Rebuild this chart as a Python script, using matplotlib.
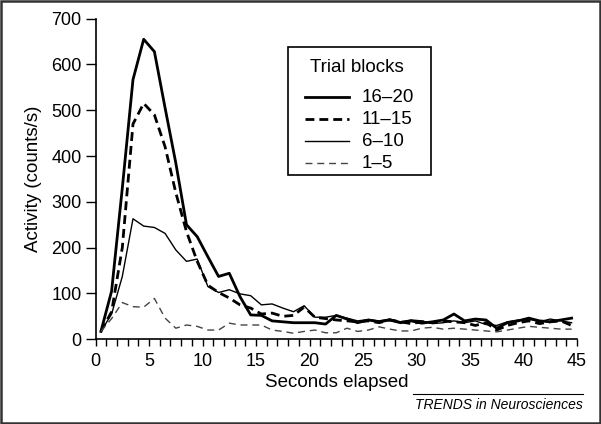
import numpy as np
import matplotlib.pyplot as plt
from matplotlib.patches import Rectangle
from matplotlib.lines import Line2D

plt.rcParams['font.family'] = ['Liberation Sans', 'DejaVu Sans']

# time bins (s), one point per second at the bin centre
secs = np.arange(0.5, 45, 1.0)

blocks_16_20 = [17, 105, 330, 567, 655, 628, 505, 385, 250, 224,
                180, 137, 144, 93, 53, 52, 40, 38, 36, 36,
                36, 33, 52, 44, 36, 42, 38, 42, 36, 40,
                35, 38, 42, 55, 40, 44, 42, 24, 36, 40,
                46, 40, 38, 42, 46]
blocks_11_15 = [17, 60, 200, 470, 515, 490, 420, 320, 235, 170,
                118, 102, 90, 75, 68, 55, 57, 50, 52, 70,
                48, 45, 42, 40, 38, 40, 36, 42, 38, 34,
                38, 36, 40, 38, 36, 30, 36, 20, 30, 36,
                40, 34, 38, 40, 30]
blocks_6_10 = [17, 55, 137, 263, 247, 244, 231, 195, 170, 175,
               115, 102, 108, 99, 95, 75, 77, 68, 60, 73,
               48, 48, 52, 46, 40, 43, 40, 44, 38, 42,
               40, 34, 36, 40, 36, 40, 32, 30, 38, 42,
               44, 38, 44, 40, 36]
blocks_1_5 = [17, 45, 80, 71, 70, 89, 46, 24, 31, 28,
              20, 20, 35, 31, 31, 31, 20, 17, 13, 17,
              20, 14, 14, 24, 17, 20, 27, 22, 18, 18,
              24, 26, 22, 24, 22, 20, 18, 16, 20, 24,
              28, 26, 24, 22, 22]

labels = ['16\u201320', '11\u201315', '6\u201310', '1\u20135']

W, H = 601, 424


def fx(px):
    return px / W


def fy(py):
    return 1 - py / H


# line styles per block: (colour, width, dash)
styles = [('black', 2.0, '-'),
          ('black', 2.0, (0, (3.2, 1.8))),
          ('black', 1.0, '-'),
          ('#444444', 1.0, (0, (5, 3.5)))]
series = [blocks_16_20, blocks_11_15, blocks_6_10, blocks_1_5]

fig = plt.figure(figsize=(6.01, 4.24), dpi=100)
ax = fig.add_axes([0.159, 0.2, 0.801, 0.756])

for vals, (c, lw, ls) in zip(series, styles):
    ax.plot(secs, vals, color=c, lw=lw, ls=ls)

ax.set_xlim(0, 45)
ax.set_ylim(0, 700)
ax.set_xticks(np.arange(0, 46, 5))
ax.set_xticks(np.arange(0, 46, 1), minor=True)
ax.set_yticks(np.arange(0, 701, 100))
ax.tick_params(axis='both', which='major', direction='out', width=1,
               labelsize=13, colors='black')
ax.tick_params(axis='y', which='major', length=7, pad=3)
ax.tick_params(axis='x', which='both', length=5, width=1, pad=5)
ax.spines['top'].set_visible(False)
ax.spines['right'].set_visible(False)
ax.spines['left'].set_linewidth(1.2)
ax.spines['bottom'].set_linewidth(1.2)

ax.set_xlabel('Seconds elapsed', fontsize=13.5, labelpad=3)
ax.set_ylabel('Activity (counts/s)', fontsize=13.5, labelpad=7)

# legend box drawn by hand to match the original spacing
fig.add_artist(Rectangle((fx(288), fy(175)), fx(431) - fx(288), fy(47) - fy(175),
                         transform=fig.transFigure, fill=False,
                         edgecolor='black', lw=1.2))
fig.text(fx(357), fy(67), 'Trial blocks', fontsize=13.5, ha='center', va='center')
for i, (lab, (c, lw, ls)) in enumerate(zip(labels, styles)):
    yy = fy(97 + 22 * i)
    fig.add_artist(Line2D([fx(305), fx(349)], [yy, yy], color=c, lw=lw, ls=ls))
    fig.text(fx(362), yy, lab, fontsize=13.5, ha='left', va='center')

# source credit with rule above it
fig.add_artist(Line2D([fx(413), fx(583)], [fy(394), fy(394)],
                      color='black', lw=0.8))
fig.text(fx(583), fy(405), 'TRENDS in Neurosciences', fontsize=10,
         style='italic', ha='right', va='center')

# outer frame
fig.add_artist(Rectangle((0.002, 0.002), 0.996, 0.996, transform=fig.transFigure,
                         fill=False, edgecolor='#333333', lw=1.8))

fig.savefig('out.png', dpi=100)
